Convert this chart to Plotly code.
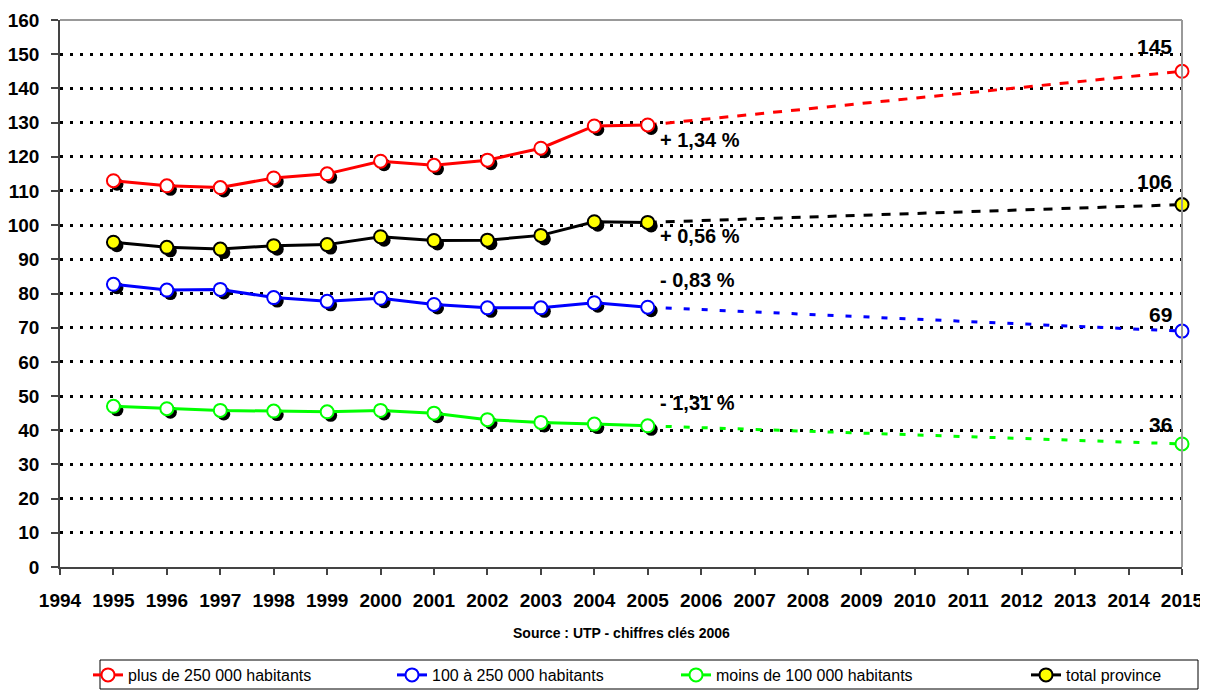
import plotly.graph_objects as go

years = [1995, 1996, 1997, 1998, 1999, 2000, 2001, 2002, 2003, 2004, 2005]
proj_years = [2005, 2015]

red_vals = [113.0, 111.5, 111.0, 113.8, 115.0, 118.7, 117.5, 119.0, 122.5, 129.0, 129.3]
black_vals = [95.0, 93.5, 93.0, 94.0, 94.3, 96.6, 95.5, 95.6, 97.0, 101.0, 100.8]
blue_vals = [82.7, 81.0, 81.2, 78.8, 77.7, 78.6, 76.8, 75.8, 75.8, 77.3, 76.0]
green_vals = [47.0, 46.3, 45.8, 45.6, 45.4, 45.8, 45.0, 43.1, 42.3, 41.8, 41.3]

red_2015 = 145
black_2015 = 106
blue_2015 = 69
green_2015 = 36

names = ["plus de 250 000 habitants", "100 à 250 000 habitants",
         "moins de 100 000 habitants", "total province"]
rates = ["+ 1,34 %", "+ 0,56 %", "- 0,83 %", "- 1,31 %"]
rate_label_y = [125, 96.8, 84, 48]
end_label_y = [152.3, 112.7, 74, 41.8]
source_text = "Source : UTP - chiffres clés 2006"

FONT = "Liberation Sans, Arial, sans-serif"

# page has an 8px body margin: figure drawn at (8, 8)
OFF = 8
W, H = 1200, 682
L, R, T, B = 52, 26, 12, 123
pw = W - L - R
ph = H - T - B
xr = [1994, 2015]
yr = [0, 160]
SH = 3.5  # shadow offset in px
sx = SH * (xr[1] - xr[0]) / pw
sy = SH * (yr[1] - yr[0]) / ph


def px_x(p):
    return (p - OFF - L) / pw


def px_y(p):
    return -(p - OFF - (H - B)) / ph


fig = go.Figure()

series = [
    (names[0], red_vals, red_2015, "#FF0000", "white", "dash"),
    (names[1], blue_vals, blue_2015, "#0000FF", "white", "6px,12px"),
    (names[2], green_vals, green_2015, "#00FF00", "white", "6px,12px"),
    (names[3], black_vals, black_2015, "#000000", "#FFFF00", "dash"),
]
legend_ids = ["legend", "legend2", "legend3", "legend4"]
legend_px = [88, 392, 676, 1026]  # left edge of each legend entry, page px

# projections (base axes)
for name, vals, v15, col, fill, dsh in series:
    fig.add_trace(go.Scatter(
        x=proj_years, y=[vals[-1], v15], mode="lines",
        line=dict(color=col, width=3, dash=dsh),
        showlegend=False, hoverinfo="skip", cliponaxis=False))

# shadows (shifted overlay axes)
for name, vals, v15, col, fill, dsh in series:
    fig.add_trace(go.Scatter(
        x=years + [2015], y=vals + [v15], mode="markers",
        marker=dict(size=13, color="black", line=dict(width=0)),
        xaxis="x2", yaxis="y2", showlegend=False, hoverinfo="skip",
        cliponaxis=False))

# main series (top overlay axes)
for (name, vals, v15, col, fill, dsh), lg in zip(series, legend_ids):
    fig.add_trace(go.Scatter(
        x=years, y=vals, mode="lines+markers", name=name, legend=lg,
        line=dict(color=col, width=3),
        marker=dict(size=13, color=fill, line=dict(color=col, width=2)),
        xaxis="x3", yaxis="y3", cliponaxis=False))
    fig.add_trace(go.Scatter(
        x=[2015], y=[v15], mode="markers", showlegend=False,
        marker=dict(size=13, color=fill, line=dict(color=col, width=2)),
        xaxis="x3", yaxis="y3", cliponaxis=False))

# rate annotations
for txt, yv in zip(rates, rate_label_y):
    fig.add_annotation(x=2005.2, y=yv, text=txt, showarrow=False,
                       xanchor="left", yanchor="middle",
                       font=dict(family=FONT, size=20, color="#000000", weight="bold"))

for v, yv in zip([red_2015, black_2015, blue_2015, green_2015], end_label_y):
    fig.add_annotation(x=2014.85, y=yv, text=str(v), showarrow=False,
                       xanchor="right", yanchor="middle",
                       font=dict(family=FONT, size=21, color="#000000", weight="bold"))

fig.add_annotation(x=0.5, xref="paper", y=px_y(633), yref="paper",
                   text=source_text, showarrow=False,
                   xanchor="center", yanchor="middle",
                   font=dict(family=FONT, size=14, color="#000000", weight="bold"))

# gray top/right border
fig.add_shape(type="line", xref="paper", yref="paper", x0=0, x1=1, y0=1, y1=1,
              line=dict(color="#999999", width=2))
fig.add_shape(type="line", xref="paper", yref="paper", x0=1, x1=1, y0=0, y1=1,
              line=dict(color="#999999", width=2))

# legend box
fig.add_shape(type="rect", xref="paper", yref="paper",
              x0=px_x(100), x1=px_x(1198), y0=px_y(660), y1=px_y(689),
              line=dict(color="#000000", width=1), fillcolor="rgba(0,0,0,0)")

legend_layouts = {}
for lg, lx in zip(legend_ids, legend_px):
    legend_layouts[lg] = dict(
        orientation="h", x=px_x(lx), xanchor="left", y=px_y(675), yanchor="middle",
        bgcolor="rgba(0,0,0,0)", borderwidth=0, itemwidth=30,
        font=dict(family=FONT, size=16, color="#000000"))

tickf = dict(family=FONT, size=19, color="#000000", weight="bold")
fig.update_layout(
    width=W, height=H,
    margin=dict(l=L, r=R, t=T, b=B, autoexpand=False),
    paper_bgcolor="white", plot_bgcolor="white",
    font=dict(family=FONT, color="#000000"),
    xaxis=dict(range=xr, dtick=1, tick0=1994, showgrid=False, zeroline=False,
               showline=True, linecolor="#444444", linewidth=1.5,
               ticks="outside", ticklen=6, tickcolor="#444444", tickwidth=1.5,
               ticklabelstandoff=9, automargin=False, tickfont=tickf),
    yaxis=dict(range=yr, dtick=10, showgrid=True, gridcolor="#000000",
               griddash="3px,7px", gridwidth=3, zeroline=False,
               showline=True, linecolor="#444444", linewidth=1.5,
               ticks="outside", ticklen=7, tickcolor="#444444", tickwidth=1.5,
               ticklabelstandoff=8, automargin=False, tickfont=tickf),
    xaxis2=dict(range=[xr[0] - sx, xr[1] - sx], overlaying="x", visible=False),
    yaxis2=dict(range=[yr[0] + sy, yr[1] + sy], overlaying="y", visible=False),
    xaxis3=dict(range=xr, overlaying="x", visible=False),
    yaxis3=dict(range=yr, overlaying="y", visible=False),
    showlegend=True,
    **legend_layouts,
)

fig.write_html("out.html")
